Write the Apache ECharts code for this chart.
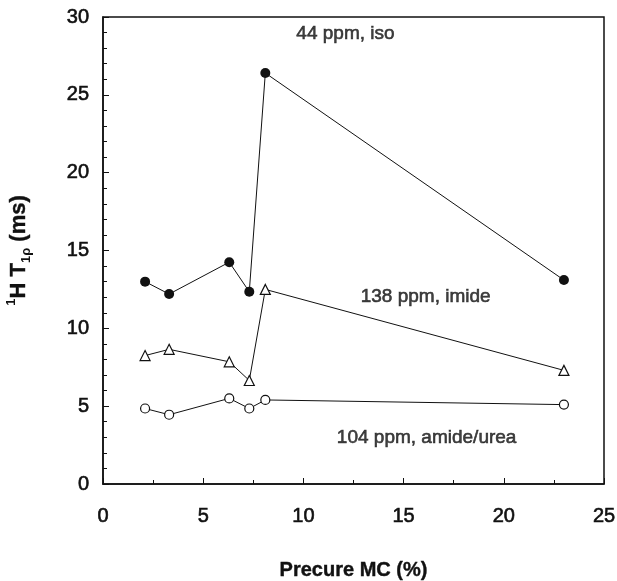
<!DOCTYPE html>
<html>
<head>
<meta charset="utf-8">
<script src="https://cdn.jsdelivr.net/npm/echarts@6/dist/echarts.min.js"></script>
<style>
html,body{margin:0;padding:0;background:#fff;}
#main{width:617px;height:581px;}
</style>
</head>
<body>
<div id="main"></div>
<script>
// Data
const mc = [2.1, 3.3, 6.3, 7.3, 8.1, 23.0];
const iso44 = [13.0, 12.2, 14.25, 12.35, 26.4, 13.1];
const imide138 = [8.25, 8.65, 7.85, 6.65, 12.5, 7.3];
const amide104 = [4.85, 4.45, 5.5, 4.85, 5.4, 5.1];
const seriesNames = ['44 ppm, iso', '138 ppm, imide', '104 ppm, amide/urea'];
const labelX = [12.1, 16.1, 16.15];
const labelY = [28.9, 12.0, 3.0];
const xTicks = [0, 5, 10, 15, 20, 25];
const yTicks = [0, 5, 10, 15, 20, 25, 30];

const pairs = (ys) => mc.map((x, i) => [x, ys[i]]);
const font = '"Liberation Sans", Arial, Helvetica, sans-serif';
const ink = '#111';

const chart = echarts.init(document.getElementById('main'));
const lineBase = {
  type: 'line',
  lineStyle: { color: ink, width: 1 },
  itemStyle: { color: '#fff', borderColor: ink, borderWidth: 1.2 },
  emphasis: { disabled: true },
  animation: false,
  z: 3
};
const tickLabel = { color: ink, fontSize: 20, fontFamily: font, textBorderColor: ink, textBorderWidth: 0.6 };
chart.setOption({
  animation: false,
  backgroundColor: '#fff',
  grid: {
    left: 103, right: 13, top: 17, bottom: 97,
    show: true, borderColor: ink, borderWidth: 1.5, containLabel: false,
    outerBoundsMode: 'none'
  },
  xAxis: {
    type: 'value', min: xTicks[0], max: xTicks[xTicks.length - 1], interval: 5,
    axisLine: { show: true, lineStyle: { color: ink, width: 1.5 } },
    axisTick: { show: true, inside: true, length: 6, lineStyle: { color: ink } },
    minorTick: { show: true, splitNumber: 2, length: 4, lineStyle: { color: ink } },
    splitLine: { show: false },
    axisLabel: Object.assign({ margin: 22 }, tickLabel),
    name: 'Precure MC (%)', nameLocation: 'middle', nameGap: 76,
    nameTextStyle: { color: ink, fontSize: 20, fontWeight: 'bold', fontFamily: font, textBorderColor: ink, textBorderWidth: 0.4 }
  },
  yAxis: {
    type: 'value', min: yTicks[0], max: yTicks[yTicks.length - 1], interval: 5,
    axisLine: { show: true, lineStyle: { color: ink, width: 1.5 } },
    axisTick: { show: true, inside: true, length: 6, lineStyle: { color: ink } },
    minorTick: { show: true, splitNumber: 5, length: 4, lineStyle: { color: ink } },
    splitLine: { show: false },
    axisLabel: Object.assign({ margin: 14 }, tickLabel),
    name: '{sup|1}{b|H T}{sub|1ρ}{b| (ms)}', nameLocation: 'middle', nameGap: 70, nameRotate: 90,
    nameTextStyle: {
      color: ink, fontFamily: font,
      rich: {
        b: { fontSize: 22, fontWeight: 'bold', fontFamily: font, color: ink, verticalAlign: 'middle', lineHeight: 28, textBorderColor: ink, textBorderWidth: 0.4 },
        sup: { fontSize: 13, fontWeight: 'bold', fontFamily: font, color: ink, verticalAlign: 'top', lineHeight: 28 },
        sub: { fontSize: 13, fontWeight: 'bold', fontFamily: font, color: ink, verticalAlign: 'bottom', lineHeight: 28 }
      }
    }
  },
  series: [
    Object.assign({}, lineBase, { name: seriesNames[0], data: pairs(iso44), symbol: 'circle', symbolSize: 10,
      itemStyle: { color: ink, borderColor: ink, borderWidth: 0 } }),
    Object.assign({}, lineBase, { name: seriesNames[1], data: pairs(imide138), symbol: 'triangle', symbolSize: 10 }),
    Object.assign({}, lineBase, { name: seriesNames[2], data: pairs(amide104), symbol: 'circle', symbolSize: 9 }),
    {
      type: 'scatter', symbolSize: 0, silent: true, animation: false, z: 5,
      data: seriesNames.map((n, i) => ({ value: [labelX[i], labelY[i]], name: n })),
      label: { show: true, position: 'inside', formatter: p => p.name, color: ink, fontSize: 19, fontFamily: font,
        textBorderColor: ink, textBorderWidth: 0.6 }
    }
  ]
});
</script>
</body>
</html>
